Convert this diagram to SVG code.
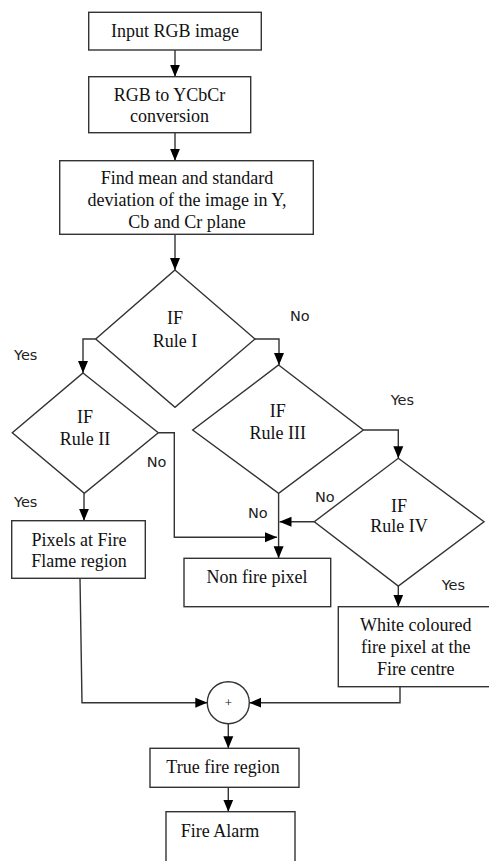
<svg xmlns="http://www.w3.org/2000/svg" width="489" height="861" viewBox="0 0 489 861">
<defs>
<style>
.n{fill:#fff;stroke:#333;stroke-width:1.4}
.t{font-family:"Liberation Serif","Times New Roman",serif;font-size:18px;fill:#111;text-anchor:middle}
.l{font-family:"DejaVu Sans",Verdana,sans-serif;font-size:14.5px;fill:#222}
.c{fill:none;stroke:#333;stroke-width:1.4}
</style>
<marker id="a" markerUnits="userSpaceOnUse" markerWidth="12" markerHeight="12" viewBox="0 0 12 10" refX="12" refY="5" orient="auto">
<path d="M0,0 L12,5 L0,10 Z" fill="#000"/>
</marker>
</defs>
<rect width="489" height="861" fill="#fff"/>
<g id="connectors">
<path class="c" d="M175,50 V76.7" marker-end="url(#a)"/>
<path class="c" d="M175,132.7 V160.7" marker-end="url(#a)"/>
<path class="c" d="M175,234.3 V270" marker-end="url(#a)"/>
<path class="c" d="M95.7,339 H83 V373" marker-end="url(#a)"/>
<path class="c" d="M255,339 H279 V365" marker-end="url(#a)"/>
<path class="c" d="M84,493.3 V520.7" marker-end="url(#a)"/>
<path class="c" d="M158.3,432.7 H174.3 V537.3 H277" marker-end="url(#a)"/>
<path class="c" d="M278.6,493.3 V558.3" marker-end="url(#a)"/>
<path class="c" d="M314.3,521.7 H279.5" marker-end="url(#a)"/>
<path class="c" d="M363.3,430 H398.3 V458.3" marker-end="url(#a)"/>
<path class="c" d="M398.3,586 V606.7" marker-end="url(#a)"/>
<path class="c" d="M80,578.3 L82,702.7 H207.3" marker-end="url(#a)"/>
<path class="c" d="M400,686.7 V702.7 H249.3" marker-end="url(#a)"/>
<path class="c" d="M228.3,723.7 V748.3" marker-end="url(#a)"/>
<path class="c" d="M228.3,787.3 V811.7" marker-end="url(#a)"/>
</g>
<g id="input">
<rect class="n" x="88.7" y="12.3" width="172.6" height="37.7"/>
<text class="t" x="175" y="37">Input RGB image</text>
</g>
<g id="convert">
<rect class="n" x="88.7" y="76.7" width="162" height="56"/>
<text class="t" x="169.5" y="101">RGB to YCbCr</text>
<text class="t" x="169.5" y="122">conversion</text>
</g>
<g id="stats">
<rect class="n" x="59.7" y="160.7" width="253.6" height="73.6"/>
<text class="t" x="187" y="184">Find mean and standard</text>
<text class="t" x="187" y="205.5">deviation of the image in Y,</text>
<text class="t" x="187" y="228">Cb and Cr plane</text>
</g>
<g id="rule1">
<polygon class="n" points="175,270 255,339 175,407.3 95.7,339"/>
<text class="t" x="175" y="324">IF</text>
<text class="t" x="175" y="346.7">Rule I</text>
</g>
<g id="rule2">
<polygon class="n" points="83,373 158.3,432.7 84.3,493.3 12.3,432.7"/>
<text class="t" x="85" y="423.3">IF</text>
<text class="t" x="85" y="445">Rule II</text>
</g>
<g id="rule3">
<polygon class="n" points="278.6,365 363.3,430 278.6,493.3 192.7,430"/>
<text class="t" x="277.7" y="417">IF</text>
<text class="t" x="277.7" y="439">Rule III</text>
</g>
<g id="rule4">
<polygon class="n" points="398.3,458.3 484,521.7 398.3,586 314.3,521.7"/>
<text class="t" x="399" y="511.7">IF</text>
<text class="t" x="399" y="531.7">Rule IV</text>
</g>
<g id="flame">
<rect class="n" x="11.7" y="520.7" width="133.6" height="57.6"/>
<text class="t" x="79" y="545.5">Pixels at Fire</text>
<text class="t" x="79" y="566.7">Flame region</text>
</g>
<g id="nonfire">
<rect class="n" x="184" y="558.3" width="146.7" height="48.4"/>
<text class="t" x="257" y="583.3">Non fire pixel</text>
</g>
<g id="white">
<rect class="n" x="338.3" y="606.7" width="153" height="80"/>
<text class="t" x="415.7" y="630.7">White coloured</text>
<text class="t" x="415.7" y="652.7">fire pixel at the</text>
<text class="t" x="415.7" y="675">Fire centre</text>
</g>
<g id="sum">
<circle class="n" cx="228.3" cy="702.7" r="21"/>
<text class="t" x="228.3" y="707" style="font-size:13px">+</text>
</g>
<g id="trueregion">
<rect class="n" x="150" y="748.3" width="149" height="39"/>
<text class="t" x="223" y="772.7">True fire region</text>
</g>
<g id="alarm">
<rect class="n" x="166" y="811.7" width="129" height="70"/>
<text class="t" x="180.7" y="836.7" style="text-anchor:start">Fire Alarm</text>
</g>
<g id="labels">
<text class="l" x="290" y="321">No</text>
<text class="l" x="14" y="360">Yes</text>
<text class="l" x="390.7" y="405">Yes</text>
<text class="l" x="146.7" y="466.7">No</text>
<text class="l" x="315" y="501.7">No</text>
<text class="l" x="14" y="506.7">Yes</text>
<text class="l" x="248" y="518.3">No</text>
<text class="l" x="441.7" y="590">Yes</text>
</g>
</svg>
